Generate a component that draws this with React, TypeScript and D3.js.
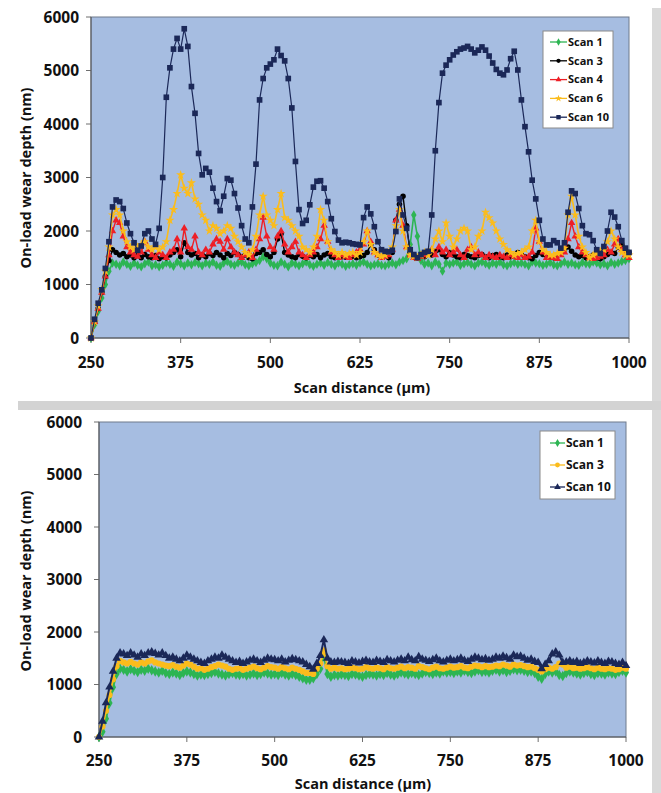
import React from 'react';
import * as d3 from 'd3';

// ---------- shared axis data ----------
const X_START = 250;
const X_STEP = 5;
const xTicks = [250, 375, 500, 625, 750, 875, 1000];
const yTicks = [0, 1000, 2000, 3000, 4000, 5000, 6000];

// ---------- top chart (on-load wear depth, nm) ----------
const topScan1 = [
  0, 250, 500, 750, 1000, 1250, 1400, 1380, 1350, 1420,
  1380, 1340, 1400, 1360, 1330, 1390, 1420, 1350, 1370, 1330,
  1360, 1400, 1380, 1340, 1420, 1390, 1350, 1400, 1370, 1410,
  1390, 1350, 1400, 1380, 1420, 1360, 1340, 1400, 1430, 1380,
  1360, 1400, 1420, 1370, 1350, 1390, 1410, 1450, 1520, 1480,
  1400, 1360, 1350, 1420, 1380, 1330, 1400, 1380, 1350, 1390,
  1420, 1370, 1340, 1380, 1400, 1360, 1410, 1380, 1350, 1400,
  1380, 1340, 1370, 1390, 1360, 1400, 1420, 1380, 1350, 1370,
  1390, 1360, 1350, 1380, 1400, 1370, 1420, 1450, 1480, 1750,
  2300, 1900, 1450, 1380, 1400, 1350, 1420, 1380, 1250, 1400,
  1380, 1400, 1420, 1360, 1390, 1410, 1380, 1350, 1400, 1420,
  1390, 1360, 1400, 1380, 1420, 1370, 1350, 1390, 1410, 1380,
  1400, 1380, 1350, 1420, 1400, 1390, 1360, 1380, 1410, 1370,
  1350, 1390, 1420, 1380, 1400, 1370, 1360, 1410, 1390, 1380,
  1420, 1400, 1370, 1390, 1350, 1410, 1380, 1400, 1430, 1450,
  1480,
];

const topScan3 = [
  0, 300, 550, 850, 1150, 1450, 1650, 1600, 1550, 1580,
  1520, 1550, 1500, 1540, 1500, 1560, 1520, 1500, 1540, 1480,
  1520, 1500, 1550, 1600, 1650, 1520, 1780, 1600, 1550, 1580,
  1500, 1550, 1520, 1580, 1540, 1600, 1550, 1500, 1580, 1540,
  1600, 1560, 1520, 1550, 1500, 1480, 1580, 1600, 1650, 1560,
  1520, 1600, 1850, 1950, 1600, 1550, 1520, 1500, 1560, 1530,
  1500, 1540, 1520, 1560, 1500, 1550, 1580, 1520, 1500, 1540,
  1520, 1510, 1550, 1530, 1500, 1520, 1540, 1600, 1750, 1650,
  1550, 1520, 1540, 1500, 1600, 2200, 2500, 2650, 2100, 1600,
  1550, 1500, 1540, 1520, 1600, 1550, 1620, 1650, 1560, 1520,
  1600, 1550, 1520, 1500, 1560, 1540, 1520, 1500, 1540, 1560,
  1520, 1500, 1540, 1560, 1520, 1500, 1550, 1520, 1540, 1600,
  1560, 1520, 1500, 1480, 1540, 1600, 1560, 1540, 1520, 1500,
  1550, 1600, 1650, 1700, 1620, 1550, 1520, 1540, 1500, 1520,
  1550, 1500, 1480, 1520, 1560, 1600, 1580, 1700, 1750, 1650,
  1600,
];

const topScan4 = [
  0, 300, 550, 850, 1150, 1550, 2000, 2200, 2150, 1900,
  1700, 1600, 1550, 1520, 1600, 1800, 1650, 1550, 1500, 1600,
  1550, 1500, 1600, 1650, 1850, 1600, 2050, 1700, 1650, 1900,
  1600, 1550, 1650, 1600, 1750, 1850, 1800, 1650, 1850, 1700,
  1600, 1550, 1500, 1550, 1600, 1500, 1650, 1850, 2250, 1900,
  1700, 1650, 1900, 2000, 1750, 1600, 1700, 1800, 1600, 1550,
  1500, 1550, 1600, 1700, 1850, 2100, 1800, 1600, 1550, 1500,
  1550, 1520, 1500, 1550, 1600, 1650, 1750, 2000, 1800, 1600,
  1550, 1500, 1520, 1550, 1650, 2200, 2400, 2100, 1700, 1550,
  1500, 1480, 1520, 1550, 1600, 1650, 1550, 1700, 1600, 1650,
  1550, 1600, 1650, 1550, 1500, 1650, 1700, 1550, 1600, 1550,
  1500, 1550, 1520, 1500, 1550, 1520, 1500, 1550, 1520, 1500,
  1550, 1500, 1520, 1600, 2050, 1800, 1600, 1500, 1520, 1500,
  1480, 1550, 1600, 1850, 2150, 1900, 1700, 1600, 1550, 1500,
  1480, 1500, 1520, 1550, 1650, 1600, 1750, 1850, 1650, 1550,
  1500,
];

const topScan6 = [
  0, 300, 600, 900, 1250, 1700, 2300, 2400, 2300, 2000,
  1800, 1700, 1650, 1700, 1750, 1800, 1700, 1650, 1700, 1650,
  1700, 1800, 2200, 2400, 2700, 3050, 2800, 2700, 2900, 2600,
  2500, 2300, 2200, 2000, 2100, 2050, 1950, 2000, 2100, 2050,
  1900, 1800, 1700, 1600, 1550, 1650, 1900, 2300, 2650, 2300,
  2200, 2100, 2400, 2700, 2250, 2200, 2100, 2000, 1900, 1700,
  1650, 1600, 1700, 1900, 2400, 2200, 1800, 1650, 1600, 1550,
  1600, 1550, 1580, 1600, 1550, 1600, 1800, 2000, 1750, 1600,
  1550, 1520, 1550, 1600, 1700, 2100, 2400, 2000, 1700, 1550,
  1520, 1500, 1550, 1600, 1550, 1650, 1850, 2000, 1800, 2150,
  1900, 1700, 1850, 2000, 2050, 2000, 1650, 1700, 1900, 2000,
  2350, 2250, 2150, 2000, 1850, 1750, 1650, 1600, 1550, 1580,
  1600, 1650, 1700, 2000, 2200, 1800, 1650, 1600, 1550, 1550,
  1580, 1600, 1680, 2300, 2650, 2300, 1900, 1700, 1600, 1500,
  1550, 1580, 1620, 1650, 1800, 2000, 1850, 1700, 1600, 1550,
  1550,
];

const topScan10 = [
  0, 350, 650, 900, 1300, 1800, 2450, 2580, 2550, 2420,
  2150, 1950, 1780, 1640, 1720, 1950, 2000, 1850, 1750, 2050,
  3000, 4500, 5050, 5400, 5600, 5400, 5780, 5450, 4700, 4200,
  3450, 3050, 3170, 3100, 2800, 2550, 2380, 2650, 2980, 2950,
  2700, 2430, 2100, 1850, 1780, 2450, 3250, 4450, 4850, 5050,
  5120, 5200, 5400, 5280, 5180, 4850, 4300, 3300, 2400, 2140,
  2200, 2490, 2820, 2930, 2940, 2800, 2550, 2230, 1990, 1830,
  1780, 1790, 1780, 1760, 1750, 1740, 2250, 2450, 2320, 2080,
  1800, 1650, 1620, 1610, 1640, 1990, 2600, 2300, 2050, 1650,
  1560, 1500, 1560, 1600, 1620, 2300, 3500, 4400, 4950, 5100,
  5200, 5290, 5350, 5400, 5420, 5450, 5400, 5330, 5380, 5440,
  5380, 5270, 5140, 5020, 4950, 4920, 5010, 5220, 5360, 5010,
  4450, 3950, 3480, 2950, 2600, 2200, 1850, 1740, 1740, 1820,
  1780, 1680, 1780, 2350, 2750, 2700, 2420, 2100, 1950, 1930,
  1820, 1650, 1580, 1710, 2000, 2350, 2260, 2080, 1820, 1680,
  1600,
];

// ---------- bottom chart ----------
const botScan1 = [
  0, 100, 350, 650, 950, 1200, 1300, 1280, 1250, 1290,
  1260, 1240, 1280, 1260, 1300, 1270, 1250, 1230, 1260, 1220,
  1200, 1230, 1210, 1180, 1220, 1250, 1230, 1200, 1170, 1190,
  1180, 1200, 1220, 1240, 1210, 1190, 1170, 1200, 1220, 1190,
  1180, 1200, 1170, 1190, 1210, 1180, 1200, 1230, 1210, 1190,
  1200, 1180, 1220, 1190, 1170, 1200, 1180, 1150, 1120, 1090,
  1090, 1120, 1200, 1300, 1550, 1200, 1150, 1180, 1170, 1190,
  1180, 1160, 1200, 1190, 1170, 1150, 1180, 1200, 1190, 1170,
  1200, 1180, 1220, 1190, 1170, 1200, 1230, 1210, 1190, 1220,
  1200, 1180, 1210, 1240, 1220, 1200, 1230, 1210, 1250, 1230,
  1240, 1220, 1250, 1230, 1260, 1240, 1220, 1250, 1270, 1240,
  1250, 1230, 1260, 1280, 1250, 1270, 1240, 1260, 1290, 1270,
  1280, 1260, 1240, 1250, 1220, 1150, 1110, 1200, 1250, 1230,
  1250, 1180, 1160, 1220, 1250, 1230, 1210, 1190, 1220, 1240,
  1200, 1180, 1220, 1210, 1190, 1230, 1210, 1200, 1240, 1260,
  1230,
];

const botScan3 = [
  0, 200, 500, 800, 1100, 1350, 1450, 1420, 1400, 1430,
  1400, 1380, 1420, 1400, 1440, 1460, 1420, 1400, 1380, 1360,
  1350, 1370, 1340, 1320, 1360, 1400, 1380, 1340, 1300, 1310,
  1280, 1300, 1330, 1350, 1380, 1360, 1340, 1300, 1280, 1300,
  1310, 1280, 1300, 1320, 1340, 1310, 1290, 1320, 1350, 1330,
  1320, 1300, 1330, 1310, 1290, 1320, 1300, 1280, 1250, 1220,
  1220, 1200, 1300, 1400, 1650, 1350, 1300, 1320, 1300, 1310,
  1290, 1300, 1320, 1310, 1290, 1300, 1330, 1310, 1300, 1320,
  1310, 1290, 1330, 1310, 1300, 1320, 1340, 1310, 1330, 1320,
  1300, 1350, 1330, 1310, 1290, 1320, 1340, 1310, 1300, 1320,
  1340, 1320, 1330, 1350, 1320, 1310, 1340, 1360, 1350, 1330,
  1350, 1330, 1340, 1360, 1350, 1380, 1360, 1340, 1380, 1360,
  1370, 1350, 1330, 1340, 1310, 1280, 1250, 1290, 1320, 1300,
  1330, 1400, 1380, 1320, 1340, 1310, 1320, 1300, 1310, 1330,
  1310, 1290, 1320, 1300, 1290, 1310, 1300, 1280, 1290, 1320,
  1300,
];

const botScan10 = [
  0, 300, 650, 950, 1250, 1500, 1600, 1580, 1550, 1600,
  1560, 1520, 1580, 1550, 1600, 1620, 1590, 1560, 1600, 1550,
  1500, 1520, 1480, 1450, 1500, 1560, 1520, 1480, 1450, 1420,
  1400, 1450, 1480, 1520, 1500, 1560, 1520, 1480, 1450, 1420,
  1440, 1400, 1430, 1460, 1480, 1450, 1420, 1460, 1500, 1480,
  1470, 1450, 1480, 1430, 1460, 1490, 1470, 1450, 1430, 1380,
  1340, 1290, 1400, 1550, 1850, 1500, 1430, 1420, 1440, 1430,
  1420, 1400, 1450, 1430, 1410, 1440, 1460, 1430, 1420, 1460,
  1440, 1420, 1470, 1450, 1430, 1460, 1480, 1450, 1520, 1470,
  1450, 1530, 1480, 1460, 1440, 1470, 1500, 1450, 1430, 1460,
  1480, 1450, 1470, 1500, 1460, 1440, 1480, 1520, 1500, 1470,
  1490, 1460, 1480, 1520, 1500, 1540, 1510, 1480, 1560, 1530,
  1540, 1500, 1460, 1480, 1440, 1420, 1300, 1380, 1450, 1580,
  1620, 1560, 1420, 1430, 1450, 1420, 1440, 1400, 1420, 1450,
  1430, 1410, 1450, 1420, 1400, 1440, 1430, 1400, 1380, 1420,
  1360,
];

const GREEN = '#2db553';
const BLACK = '#000000';
const RED = '#ee1f26';
const GOLD = '#fbbc1c';
const NAVY = '#1b2858';
const PLOT_FILL = '#a6bde1';
const FONT = '"Open Sans", "Liberation Sans", sans-serif';

type Marker = 'diamond' | 'circle' | 'triangle' | 'square' | 'star';
interface Series {
  name: string;
  values: number[];
  color: string;
  marker: Marker;
  size: number;
  width: number;
}

const topSeries: Series[] = [
  { name: 'Scan 1', values: topScan1, color: GREEN, marker: 'diamond', size: 26, width: 1.6 },
  { name: 'Scan 3', values: topScan3, color: BLACK, marker: 'circle', size: 24, width: 1.4 },
  { name: 'Scan 4', values: topScan4, color: RED, marker: 'triangle', size: 24, width: 1.4 },
  { name: 'Scan 6', values: topScan6, color: GOLD, marker: 'star', size: 26, width: 1.6 },
  { name: 'Scan 10', values: topScan10, color: NAVY, marker: 'square', size: 32, width: 1.2 },
];

const bottomSeries: Series[] = [
  { name: 'Scan 1', values: botScan1, color: GREEN, marker: 'diamond', size: 32, width: 2 },
  { name: 'Scan 3', values: botScan3, color: GOLD, marker: 'circle', size: 30, width: 2 },
  { name: 'Scan 10', values: botScan10, color: NAVY, marker: 'triangle', size: 32, width: 2 },
];

const symbolTypes: Record<Marker, d3.SymbolType> = {
  diamond: d3.symbolDiamond,
  circle: d3.symbolCircle,
  triangle: d3.symbolTriangle,
  square: d3.symbolSquare,
  star: d3.symbolStar,
};

interface ChartProps {
  series: Series[];
  plot: { x0: number; x1: number; y0: number; y1: number };
  xLabelBaseline: number;
  yLabelRight: number;
  xTitle: { x: number; y: number };
  yTitle: { x: number; y: number };
  legend: { x: number; y: number; w: number; h: number; firstRow: number; rowGap: number; fontSize: number; lineX0: number; lineX1: number; textX: number; markerScale: number };
}

function Chart({ series, plot, xLabelBaseline, yLabelRight, xTitle, yTitle, legend }: ChartProps) {
  const x = d3.scaleLinear().domain([250, 1000]).range([plot.x0, plot.x1]);
  const y = d3.scaleLinear().domain([0, 6000]).range([plot.y1, plot.y0]);
  const line = d3
    .line<number>()
    .x((_, i) => x(X_START + i * X_STEP))
    .y((d) => y(d));

  return (
    <g>
      <rect x={plot.x0} y={plot.y0} width={plot.x1 - plot.x0} height={plot.y1 - plot.y0} fill={PLOT_FILL} stroke="#6f7b8c" strokeWidth={1} />
      {yTicks.map((t) => (
        <g key={'y' + t}>
          <line x1={plot.x0 - 5} x2={plot.x0} y1={y(t)} y2={y(t)} stroke="#6f6f6f" strokeWidth={1} />
          <text x={yLabelRight} y={y(t)} dy="0.36em" textAnchor="end" fontFamily={FONT} fontWeight={700} fontSize={15.5} fill="#111">
            {t}
          </text>
        </g>
      ))}
      {xTicks.map((t) => (
        <g key={'x' + t}>
          <line x1={x(t)} x2={x(t)} y1={plot.y1} y2={plot.y1 + 5} stroke="#6f6f6f" strokeWidth={1} />
          <text x={x(t)} y={xLabelBaseline} textAnchor="middle" fontFamily={FONT} fontWeight={700} fontSize={15.5} fill="#111">
            {t}
          </text>
        </g>
      ))}
      <line x1={plot.x0} x2={plot.x1} y1={plot.y1} y2={plot.y1} stroke="#555" strokeWidth={1} />
      <line x1={plot.x0} x2={plot.x0} y1={plot.y0} y2={plot.y1} stroke="#555" strokeWidth={1} />
      {series.map((s) => {
        const sym = d3.symbol().type(symbolTypes[s.marker]).size(s.size)();
        return (
          <g key={s.name}>
            <path d={line(s.values) || ''} fill="none" stroke={s.color} strokeWidth={s.width} strokeLinejoin="round" />
            {s.values.map((v, i) => (
              <path key={i} d={sym || ''} transform={`translate(${x(X_START + i * X_STEP)},${y(v)})`} fill={s.color} />
            ))}
          </g>
        );
      })}
      <text x={xTitle.x} y={xTitle.y} textAnchor="middle" fontFamily={FONT} fontWeight={700} fontSize={14.5} fill="#111">
        Scan distance (μm)
      </text>
      <text
        transform={`translate(${yTitle.x},${yTitle.y}) rotate(-90)`}
        textAnchor="middle"
        dominantBaseline="central"
        fontFamily={FONT}
        fontWeight={700}
        fontSize={14.5}
        fill="#111"
      >
        On-load wear depth (nm)
      </text>
      <rect x={legend.x} y={legend.y} width={legend.w} height={legend.h} fill="#fff" stroke="#8a8a8a" strokeWidth={1} />
      {series.map((s, i) => {
        const ly = legend.firstRow + i * legend.rowGap;
        const sym = d3.symbol().type(symbolTypes[s.marker]).size(s.size * legend.markerScale)();
        return (
          <g key={'lg' + s.name}>
            <line x1={legend.lineX0} x2={legend.lineX1} y1={ly} y2={ly} stroke={s.color} strokeWidth={1.3} />
            <path d={sym || ''} transform={`translate(${(legend.lineX0 + legend.lineX1) / 2},${ly})`} fill={s.color} />
            <text x={legend.textX} y={ly} dy="0.35em" fontFamily={FONT} fontWeight={700} fontSize={legend.fontSize} fill="#111">
              {s.name}
            </text>
          </g>
        );
      })}
    </g>
  );
}

export default function App() {
  return (
    <svg width={661} height={793} style={{ position: 'absolute', left: 0, top: 0 }} xmlns="http://www.w3.org/2000/svg">
      <rect x={0} y={0} width={661} height={793} fill="#ffffff" />
      <rect x={652} y={8} width={9} height={785} fill="#d9d9d9" />
      <rect x={18} y={401} width={643} height={9} fill="#d3d3d3" />
      <Chart
        series={topSeries}
        plot={{ x0: 91, x1: 629, y0: 17, y1: 338 }}
        xLabelBaseline={368}
        yLabelRight={79}
        xTitle={{ x: 362, y: 393 }}
        yTitle={{ x: 25, y: 178 }}
        legend={{ x: 543, y: 31, w: 70, h: 97, firstRow: 42, rowGap: 18.8, fontSize: 11, lineX0: 550, lineX1: 567, textX: 568, markerScale: 0.6 }}
      />
      <Chart
        series={bottomSeries}
        plot={{ x0: 99, x1: 626, y0: 422, y1: 737 }}
        xLabelBaseline={766}
        yLabelRight={82}
        xTitle={{ x: 363, y: 789 }}
        yTitle={{ x: 25, y: 581 }}
        legend={{ x: 540, y: 431, w: 75, h: 68, firstRow: 443, rowGap: 22, fontSize: 12, lineX0: 550, lineX1: 565, textX: 566, markerScale: 0.6 }}
      />
    </svg>
  );
}
